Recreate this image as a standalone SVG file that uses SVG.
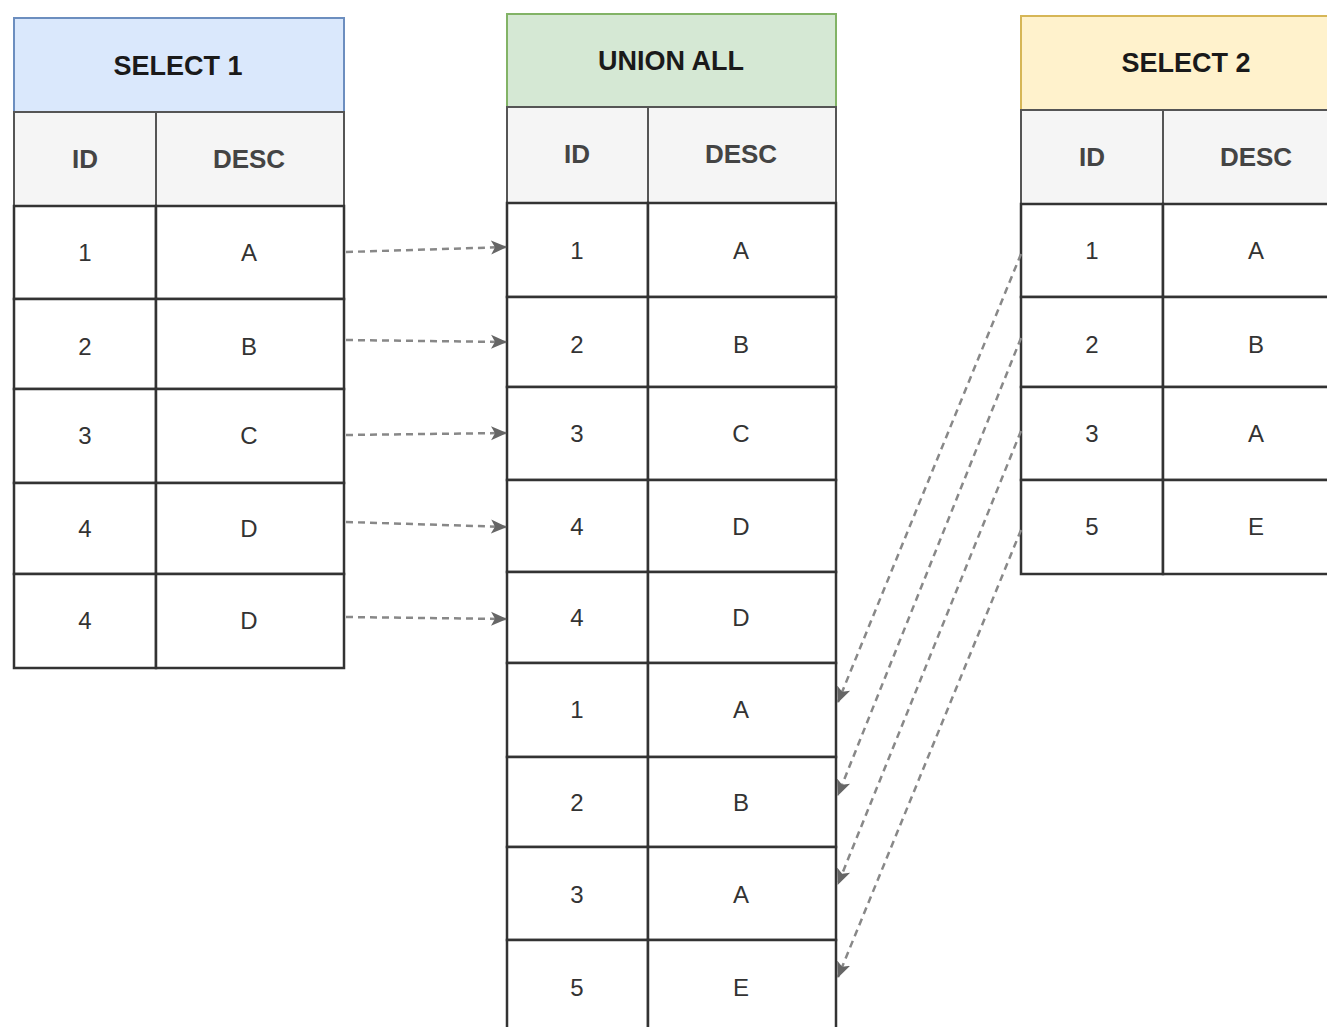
<svg xmlns="http://www.w3.org/2000/svg" width="1327" height="1027" viewBox="0 0 1327 1027">
<defs>
<style>
.cell{fill:#ffffff;stroke:#333333;stroke-width:2.5}
.colh{fill:#f5f5f5;stroke:#555555;stroke-width:2}
.title{font-family:"Liberation Sans",Arial,sans-serif;font-weight:bold;font-size:27px;fill:#1a1a1a;text-anchor:middle}
.hdr{font-family:"Liberation Sans",Arial,sans-serif;font-weight:bold;font-size:26px;fill:#444444;text-anchor:middle}
.val{font-family:"Liberation Sans",Arial,sans-serif;font-size:24px;fill:#333333;text-anchor:middle}
.conn{fill:none;stroke:#888888;stroke-width:2.5;stroke-dasharray:7 5}
</style>
<marker id="arr" viewBox="0 0 16 16" refX="15" refY="8" markerWidth="16" markerHeight="16" markerUnits="userSpaceOnUse" orient="auto">
<path d="M0,1 L16,8 L0,15 L4,8 z" fill="#666666"/>
</marker>
</defs>
<rect width="1327" height="1027" fill="#ffffff"/>

<g id="select1">
<rect x="14" y="18" width="330" height="94" fill="#dae8fc" stroke="#6c8ebf" stroke-width="2"/>
<text class="title" x="178" y="75">SELECT 1</text>
<rect class="colh" x="14" y="112" width="142" height="94"/>
<rect class="colh" x="156" y="112" width="188" height="94"/>
<text class="hdr" x="85" y="168">ID</text>
<text class="hdr" x="249" y="168">DESC</text>
<rect class="cell" x="14" y="206" width="142" height="93"/><rect class="cell" x="156" y="206" width="188" height="93"/>
<text class="val" x="85" y="261">1</text><text class="val" x="249" y="261">A</text>
<rect class="cell" x="14" y="299" width="142" height="90"/><rect class="cell" x="156" y="299" width="188" height="90"/>
<text class="val" x="85" y="355">2</text><text class="val" x="249" y="355">B</text>
<rect class="cell" x="14" y="389" width="142" height="94"/><rect class="cell" x="156" y="389" width="188" height="94"/>
<text class="val" x="85" y="444">3</text><text class="val" x="249" y="444">C</text>
<rect class="cell" x="14" y="483" width="142" height="91"/><rect class="cell" x="156" y="483" width="188" height="91"/>
<text class="val" x="85" y="537">4</text><text class="val" x="249" y="537">D</text>
<rect class="cell" x="14" y="574" width="142" height="94"/><rect class="cell" x="156" y="574" width="188" height="94"/>
<text class="val" x="85" y="629">4</text><text class="val" x="249" y="629">D</text>
</g>

<g id="unionall">
<rect x="507" y="14" width="329" height="93" fill="#d5e8d4" stroke="#82b366" stroke-width="2"/>
<text class="title" x="671" y="70">UNION ALL</text>
<rect class="colh" x="507" y="107" width="141" height="96"/>
<rect class="colh" x="648" y="107" width="188" height="96"/>
<text class="hdr" x="577" y="163">ID</text>
<text class="hdr" x="741" y="163">DESC</text>
<rect class="cell" x="507" y="203" width="141" height="94"/><rect class="cell" x="648" y="203" width="188" height="94"/>
<text class="val" x="577" y="259">1</text><text class="val" x="741" y="259">A</text>
<rect class="cell" x="507" y="297" width="141" height="90"/><rect class="cell" x="648" y="297" width="188" height="90"/>
<text class="val" x="577" y="353">2</text><text class="val" x="741" y="353">B</text>
<rect class="cell" x="507" y="387" width="141" height="93"/><rect class="cell" x="648" y="387" width="188" height="93"/>
<text class="val" x="577" y="442">3</text><text class="val" x="741" y="442">C</text>
<rect class="cell" x="507" y="480" width="141" height="92"/><rect class="cell" x="648" y="480" width="188" height="92"/>
<text class="val" x="577" y="535">4</text><text class="val" x="741" y="535">D</text>
<rect class="cell" x="507" y="572" width="141" height="91"/><rect class="cell" x="648" y="572" width="188" height="91"/>
<text class="val" x="577" y="626">4</text><text class="val" x="741" y="626">D</text>
<rect class="cell" x="507" y="663" width="141" height="94"/><rect class="cell" x="648" y="663" width="188" height="94"/>
<text class="val" x="577" y="718">1</text><text class="val" x="741" y="718">A</text>
<rect class="cell" x="507" y="757" width="141" height="90"/><rect class="cell" x="648" y="757" width="188" height="90"/>
<text class="val" x="577" y="811">2</text><text class="val" x="741" y="811">B</text>
<rect class="cell" x="507" y="847" width="141" height="93"/><rect class="cell" x="648" y="847" width="188" height="93"/>
<text class="val" x="577" y="903">3</text><text class="val" x="741" y="903">A</text>
<rect class="cell" x="507" y="940" width="141" height="94"/><rect class="cell" x="648" y="940" width="188" height="94"/>
<text class="val" x="577" y="996">5</text><text class="val" x="741" y="996">E</text>
</g>

<g id="select2">
<rect x="1021" y="16" width="330" height="94" fill="#fff2cc" stroke="#d6b656" stroke-width="2"/>
<text class="title" x="1186" y="72">SELECT 2</text>
<rect class="colh" x="1021" y="110" width="142" height="94"/>
<rect class="colh" x="1163" y="110" width="188" height="94"/>
<text class="hdr" x="1092" y="166">ID</text>
<text class="hdr" x="1256" y="166">DESC</text>
<rect class="cell" x="1021" y="204" width="142" height="93"/><rect class="cell" x="1163" y="204" width="188" height="93"/>
<text class="val" x="1092" y="259">1</text><text class="val" x="1256" y="259">A</text>
<rect class="cell" x="1021" y="297" width="142" height="90"/><rect class="cell" x="1163" y="297" width="188" height="90"/>
<text class="val" x="1092" y="353">2</text><text class="val" x="1256" y="353">B</text>
<rect class="cell" x="1021" y="387" width="142" height="93"/><rect class="cell" x="1163" y="387" width="188" height="93"/>
<text class="val" x="1092" y="442">3</text><text class="val" x="1256" y="442">A</text>
<rect class="cell" x="1021" y="480" width="142" height="94"/><rect class="cell" x="1163" y="480" width="188" height="94"/>
<text class="val" x="1092" y="535">5</text><text class="val" x="1256" y="535">E</text>
</g>

<g id="connectors">
<path class="conn" d="M346,252 L506,247" marker-end="url(#arr)"/>
<path class="conn" d="M346,340 L506,342" marker-end="url(#arr)"/>
<path class="conn" d="M346,435 L506,433" marker-end="url(#arr)"/>
<path class="conn" d="M346,522 L506,527" marker-end="url(#arr)"/>
<path class="conn" d="M346,617 L506,619" marker-end="url(#arr)"/>
<path class="conn" d="M1021,254 L838,702" marker-end="url(#arr)"/>
<path class="conn" d="M1021,338 L838,795" marker-end="url(#arr)"/>
<path class="conn" d="M1021,431 L838,884" marker-end="url(#arr)"/>
<path class="conn" d="M1021,530 L838,977" marker-end="url(#arr)"/>
</g>
</svg>
